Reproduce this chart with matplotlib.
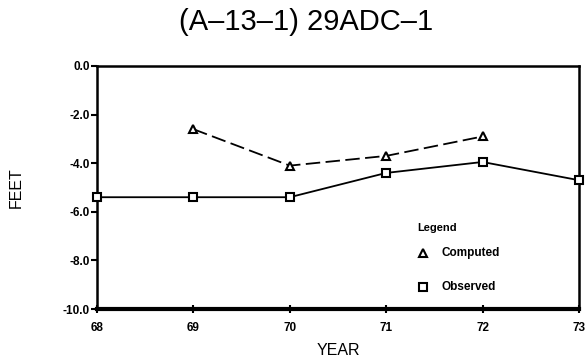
import matplotlib.pyplot as plt

# well hydrograph values
years_computed = [69, 70, 71, 72]
computed = [-2.6, -4.1, -3.7, -2.9]
years_observed = [68, 69, 70, 71, 72, 73]
observed = [-5.4, -5.4, -5.4, -4.4, -3.95, -4.7]

x_ticks = [68, 69, 70, 71, 72, 73]
y_ticks = [0.0, -2.0, -4.0, -6.0, -8.0, -10.0]

plt.rcParams['font.family'] = ['Liberation Sans', 'DejaVu Sans']

fig = plt.figure(figsize=(5.86, 3.62), dpi=100)
ax = fig.add_axes([0.1655, 0.1464, 0.8225, 0.6713])

ax.plot(years_computed, computed, color='black', linestyle=(0, (8, 3)), linewidth=1.3,
        marker='^', markersize=6, markerfacecolor='white', markeredgecolor='black',
        markeredgewidth=1.5)
ax.plot(years_observed, observed, color='black', linestyle='-', linewidth=1.3,
        marker='s', markersize=5.5, markerfacecolor='white', markeredgecolor='black',
        markeredgewidth=1.5, clip_on=False, zorder=5)

ax.set_xlim(68, 73)
ax.set_ylim(-10, 0)
ax.set_xticks(x_ticks)
ax.set_xticklabels([str(t) for t in x_ticks], fontsize=8.5, fontweight='bold')
ax.set_yticks(y_ticks)
ax.set_yticklabels(['%.1f' % t if t != 0 else '0.0' for t in y_ticks], fontsize=8.5,
                   fontweight='bold')
ax.tick_params(axis='y', direction='out', length=4, width=1.5, pad=1)
ax.tick_params(axis='x', direction='inout', length=6, width=1.5, pad=6)

for side in ['left', 'top', 'right']:
    ax.spines[side].set_linewidth(1.8)
ax.spines['bottom'].set_linewidth(3)

fig.text(0.522, 0.94, '(A\u201313\u20131) 29ADC\u20131', ha='center', va='center',
         fontsize=21)
ax.set_xlabel('YEAR', fontsize=11.5, labelpad=7)
ax.set_ylabel('FEET', fontsize=11.5, labelpad=28)

# legend drawn as text and markers in axes coordinates
ax.text(0.665, 0.334, 'Legend', transform=ax.transAxes, fontsize=8, fontweight='bold',
        va='center')
ax.plot([0.676], [0.232], transform=ax.transAxes, marker='^', markersize=6,
        markerfacecolor='white', markeredgecolor='black', markeredgewidth=1.5,
        linestyle='none')
ax.text(0.715, 0.232, 'Computed', transform=ax.transAxes, fontsize=8.5, fontweight='bold',
        va='center')
ax.plot([0.676], [0.09], transform=ax.transAxes, marker='s', markersize=6,
        markerfacecolor='white', markeredgecolor='black', markeredgewidth=1.5,
        linestyle='none')
ax.text(0.715, 0.09, 'Observed', transform=ax.transAxes, fontsize=8.5, fontweight='bold',
        va='center')

fig.savefig('out.png', dpi=100)
